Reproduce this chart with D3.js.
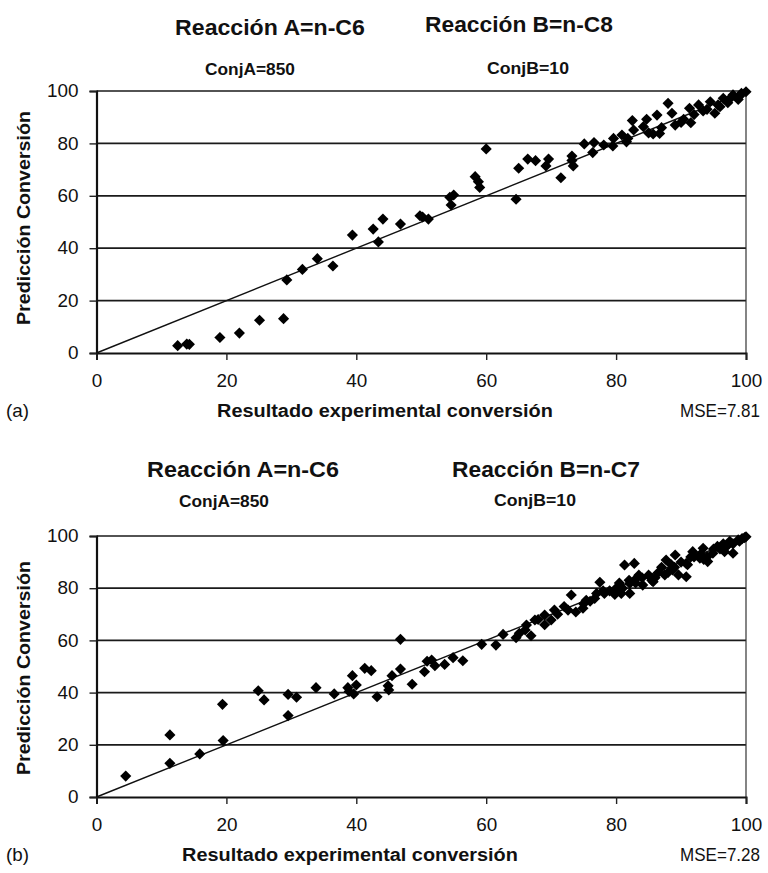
<!DOCTYPE html>
<html>
<head>
<meta charset="utf-8">
<script src="https://cdn.jsdelivr.net/npm/d3@7"></script>
<style>
  body { margin: 0; background: #fff; }
  text { font-family: "Liberation Sans", Arial, sans-serif; fill: #111; }
</style>
</head>
<body>
<div class="canva"></div>
<script>
// panel (a): A=n-C6, B=n-C8
const expA = [12.5, 13.9, 14.3, 19.0, 22.0, 25.1, 28.8, 29.3, 31.7, 34.0, 36.4, 39.4, 42.6, 44.1, 43.4, 46.8, 49.8, 51.1,
  50.2, 54.4, 55.0, 54.6, 58.3, 59.0, 58.8, 60.0, 64.6, 65.0, 66.4, 67.6, 69.6, 69.2, 71.5, 73.2, 73.4, 73.2,
  75.1, 76.4, 76.6, 78.1, 79.5, 79.6, 80.9, 81.6, 81.8, 82.7, 82.5, 84.2, 84.7, 85.7, 86.3, 86.7, 88.0, 88.6,
  89.1, 90.4, 91.5, 91.3, 92.7, 93.4, 94.5, 95.2, 95.7, 96.5, 97.2, 98.0, 98.8, 99.3, 100,
  92.0, 94.0, 96.0, 97.5, 99.0, 90.0, 87.0, 85.0];
const predA = [2.8, 3.4, 3.3, 5.9, 7.6, 12.5, 13.1, 27.9, 31.9, 36.0, 33.2, 45.0, 47.3, 51.1, 42.4, 49.2, 52.4, 51.1,
  51.9, 59.4, 60.3, 56.5, 67.3, 63.2, 65.4, 77.9, 58.7, 70.5, 74.0, 73.4, 74.0, 71.4, 66.9, 75.2, 71.4, 73.5,
  79.8, 76.5, 80.3, 79.4, 79.0, 81.9, 83.2, 80.6, 81.9, 85.1, 88.7, 86.4, 89.2, 83.6, 90.8, 83.8, 95.3, 91.5,
  87.0, 89.2, 87.9, 93.4, 94.7, 92.4, 95.9, 91.5, 94.7, 97.2, 95.5, 98.5, 96.8, 99.1, 99.7,
  91.0, 93.0, 94.0, 97.0, 98.0, 88.0, 86.0, 84.0];

// panel (b): A=n-C6, B=n-C7
const expB = [4.5, 11.3, 11.3, 15.9, 19.4, 19.5, 24.9, 25.8, 29.5, 29.5, 30.8, 33.8, 36.6, 38.7, 38.9, 39.4, 39.6, 40.0,
  41.3, 42.3, 43.2, 44.9, 45.0, 45.5, 46.8, 46.8, 48.6, 50.5, 50.9, 51.6, 52.1, 53.6, 54.9, 56.4, 59.3, 61.5,
  62.6, 64.6, 65.1, 66.2, 66.9, 67.5, 69.0, 70.0, 70.5, 72.6, 73.1, 73.8, 74.9, 75.4, 76.7, 77.5, 78.2, 79.8,
  80.8, 81.3, 82.8, 82.1, 82.1, 83.1, 84.1, 85.2, 85.7, 87.5, 87.7, 88.7, 89.1, 89.6, 90.8, 90.8, 91.8, 92.9,
  93.4, 94.1, 94.9, 95.6, 96.7, 97.4, 98.0, 98.8, 99.8, 100,
  66.0, 68.0, 69.0, 71.0, 72.0, 75.0, 76.0, 78.0, 79.0, 80.0, 81.0, 82.0, 83.0, 84.0, 85.0, 86.0, 86.5, 87.0,
  88.0, 89.0, 90.0, 91.0, 92.0, 93.0, 94.0, 95.0, 96.0, 96.5, 97.0, 98.0, 99.0, 99.4, 97.5, 93.5, 91.5, 88.5,
  85.5, 83.5, 80.5, 77.0];
const predB = [8.0, 23.8, 12.9, 16.5, 35.5, 21.6, 40.7, 37.2, 39.3, 31.2, 38.2, 41.9, 39.5, 41.9, 40.4, 46.5, 39.5, 42.9,
  49.3, 48.4, 38.4, 42.6, 41.0, 46.5, 60.4, 49.0, 43.2, 48.0, 52.0, 52.5, 50.3, 50.8, 53.4, 52.2, 58.5, 58.2,
  62.3, 61.0, 62.7, 65.9, 61.8, 67.8, 69.7, 67.8, 71.6, 71.6, 77.4, 70.9, 72.3, 75.4, 76.1, 82.3, 78.0, 77.6,
  78.0, 88.9, 89.5, 78.0, 81.8, 83.7, 81.2, 84.4, 82.5, 85.1, 90.8, 87.0, 92.7, 85.1, 84.4, 89.5, 94.0, 91.5,
  95.3, 90.2, 93.4, 96.0, 94.0, 97.2, 93.4, 98.5, 99.4, 99.7,
  64.0, 68.0, 66.0, 70.0, 73.0, 74.0, 75.0, 79.0, 79.0, 80.0, 80.0, 83.0, 82.0, 84.0, 85.0, 84.0, 86.0, 88.0,
  86.0, 88.0, 90.0, 89.0, 92.0, 93.0, 92.0, 95.0, 95.0, 97.0, 96.0, 97.0, 98.0, 99.0, 98.0, 91.0, 92.0, 89.0,
  83.0, 85.0, 82.0, 78.0];

const yTicks = [0, 20, 40, 60, 80, 100];
const xTicks = [0, 20, 40, 60, 80, 100];

const svg = d3.select('.canva').append('svg')
  .attr('width', 768)
  .attr('height', 873);

const panels = [
  { exp: expA, pred: predA, top: 91, bottom: 353, tag: '(a)', mse: 'MSE=7.81',
    titleA: ['Reacción A=n-C6', 270, 35, 190], titleB: ['Reacción B=n-C8', 519, 32, 188],
    conjA: ['ConjA=850', 250, 75, 90], conjB: ['ConjB=10', 528, 74, 82], xlabX: 385, ylabY: 218 },
  { exp: expB, pred: predB, top: 536, bottom: 797, tag: '(b)', mse: 'MSE=7.28',
    titleA: ['Reacción A=n-C6', 243, 477, 192], titleB: ['Reacción B=n-C7', 546, 477, 188],
    conjA: ['ConjA=850', 224, 507, 90], conjB: ['ConjB=10', 535, 506, 82], xlabX: 350, ylabY: 668 }
];

const left = 96.5, right = 746;
const x = d3.scaleLinear().domain([0, 100]).range([left, right]);
const hs = 1.08; // the scan is a bit stretched sideways

// text stretched to a given width (glyphs scaled, not spaced)
function txt(g, s, tx, ty, size, weight, anchor, len, rot) {
  const t = g.append('text')
    .attr('font-size', size).attr('font-weight', weight)
    .attr('text-anchor', anchor).text(s);
  const k = len ? len / t.node().getComputedTextLength() : hs;
  t.attr('transform', `translate(${tx},${ty})${rot ? ` rotate(${rot})` : ''} scale(${k},1)`);
  return t;
}

panels.forEach(p => {
  const y = d3.scaleLinear().domain([0, 100]).range([p.bottom, p.top]);
  const g = svg.append('g');

  // titles
  [p.titleA, p.titleB].forEach(t => txt(g, t[0], t[1], t[2], 22, 'bold', 'middle', t[3]));
  [p.conjA, p.conjB].forEach(t => txt(g, t[0], t[1], t[2], 16.5, 'bold', 'middle', t[3]));

  // horizontal gridlines
  g.selectAll('line.grid').data(yTicks.slice(1)).enter()
    .append('line').attr('class', 'grid')
    .attr('x1', left).attr('x2', right)
    .attr('y1', d => y(d)).attr('y2', d => y(d))
    .attr('stroke', '#1a1a1a').attr('stroke-width', 1.7);

  // right edge
  g.append('line')
    .attr('x1', right).attr('x2', right).attr('y1', p.top).attr('y2', p.bottom)
    .attr('stroke', '#333').attr('stroke-width', 1.2);

  // axes
  const yAxis = d3.axisLeft(y).tickValues(yTicks).tickSize(7).tickFormat(d3.format('d'));
  const xAxis = d3.axisBottom(x).tickValues(xTicks).tickSize(7).tickFormat(d3.format('d'));

  const ya = g.append('g').attr('transform', `translate(${left},0)`).call(yAxis);
  ya.select('.domain').attr('stroke', '#111').attr('stroke-width', 2.2);
  ya.selectAll('.tick line').attr('stroke', '#222').attr('stroke-width', 1.4);
  ya.selectAll('.tick text').attr('x', -18 / hs).attr('font-size', 17.5)
    .attr('transform', `scale(${hs},1)`)
    .style('font-family', '"Liberation Sans", Arial, sans-serif').attr('fill', '#2a2a2a');

  const xa = g.append('g').attr('transform', `translate(0,${p.bottom})`).call(xAxis);
  xa.select('.domain').attr('stroke', '#111').attr('stroke-width', 2);
  xa.selectAll('.tick line').attr('stroke', '#222').attr('stroke-width', 1.4);
  xa.selectAll('.tick text').attr('y', 22).attr('font-size', 17.5)
    .attr('transform', `scale(${hs},1)`)
    .style('font-family', '"Liberation Sans", Arial, sans-serif').attr('fill', '#2a2a2a');

  // y = x reference line
  g.append('line')
    .attr('x1', x(0)).attr('y1', y(0)).attr('x2', x(100)).attr('y2', y(100))
    .attr('stroke', '#111').attr('stroke-width', 1.4);

  // points
  const pts = p.exp.map((e, i) => [e, p.pred[i]]);
  const diamond = d3.symbol().type(d3.symbolSquare).size(62);
  g.selectAll('path.pt').data(pts).enter()
    .append('path').attr('class', 'pt')
    .attr('d', diamond)
    .attr('transform', d => `translate(${x(d[0])},${y(d[1])}) rotate(45)`)
    .attr('fill', '#000');

  // labels
  const labY = p.bottom + 64;
  txt(g, p.tag, 6, labY, 17.5, 'normal', 'start', 23).attr('fill', '#2a2a2a');
  txt(g, 'Resultado experimental conversión', p.xlabX, labY, 17.5, 'bold', 'middle', 336);
  txt(g, p.mse, 760, labY, 17.5, 'normal', 'end', 80).attr('fill', '#2a2a2a');

  txt(g, 'Predicción Conversión', 30, p.ylabY, 18, 'bold', 'middle', 214, -90);
});
</script>
</body>
</html>
